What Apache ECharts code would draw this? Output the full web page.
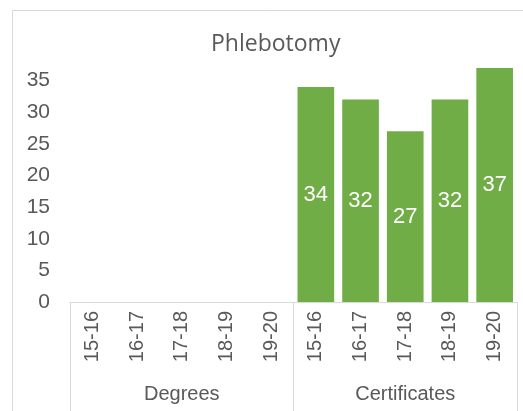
<!DOCTYPE html>
<html>
<head>
<meta charset="utf-8">
<script src="https://cdn.jsdelivr.net/npm/echarts@6/dist/echarts.min.js"></script>
<style>
  html, body { margin: 0; padding: 0; background: #fff; }
  #chart { width: 523px; height: 411px; }
</style>
</head>
<body>
<div id="chart"></div>
<script>
// Program completions by academic year, grouped by award type
const chartTitle = 'Phlebotomy';
const years = ['15-16', '16-17', '17-18', '18-19', '19-20'];
const groups = ['Degrees', 'Certificates'];
const degreeCounts = [null, null, null, null, null];
const certificateCounts = [34, 32, 27, 32, 37];
const yTicks = [0, 5, 10, 15, 20, 25, 30, 35];

const categories = groups.flatMap(() => years);
const values = degreeCounts.concat(certificateCounts);

const textColor = '#595959';
const lineColor = '#d9d9d9';
const font = 'Liberation Sans, Arial, sans-serif';

const chart = echarts.init(document.getElementById('chart'), null, { renderer: 'canvas' });
chart.setOption({
  animation: false,
  backgroundColor: '#fff',
  graphic: [{
    type: 'rect',
    z: -10,
    shape: { x: 12.5, y: 10.5, width: 600, height: 600 },
    style: { fill: 'none', stroke: lineColor, lineWidth: 1 }
  }],
  title: {
    text: chartTitle,
    left: 206,
    top: 28,
    textStyle: { color: textColor, fontSize: 23, fontWeight: 'normal', fontFamily: 'Open Sans, Liberation Sans, sans-serif' }
  },
  grid: { left: 70, right: 6, top: 49, bottom: 109, containLabel: false },
  xAxis: [{
    type: 'category',
    data: categories,
    position: 'bottom',
    axisLine: { show: true, lineStyle: { color: lineColor } },
    axisTick: { show: false },
    axisLabel: { rotate: 90, margin: 9, color: textColor, fontSize: 20, fontFamily: font, interval: 0 }
  }, {
    type: 'category',
    data: groups,
    position: 'bottom',
    axisLine: { show: false },
    axisTick: { show: true, length: 115, lineStyle: { color: lineColor } },
    axisLabel: { margin: 82, color: textColor, fontSize: 20, fontFamily: font, interval: 0 }
  }],
  yAxis: {
    type: 'value',
    min: 0,
    max: 40,
    interval: 5,
    axisLine: { show: false },
    axisTick: { show: false },
    splitLine: { show: false },
    axisLabel: {
      margin: 20,
      color: textColor,
      fontSize: 21,
      fontFamily: font,
      formatter: v => (yTicks.includes(v) ? String(v) : '')
    }
  },
  series: [{
    type: 'bar',
    xAxisIndex: 0,
    data: values,
    barCategoryGap: '18%',
    itemStyle: { color: '#70ad47' },
    label: {
      show: true,
      position: 'inside',
      color: '#ffffff',
      fontSize: 22,
      fontFamily: font
    }
  }]
});
</script>
</body>
</html>
